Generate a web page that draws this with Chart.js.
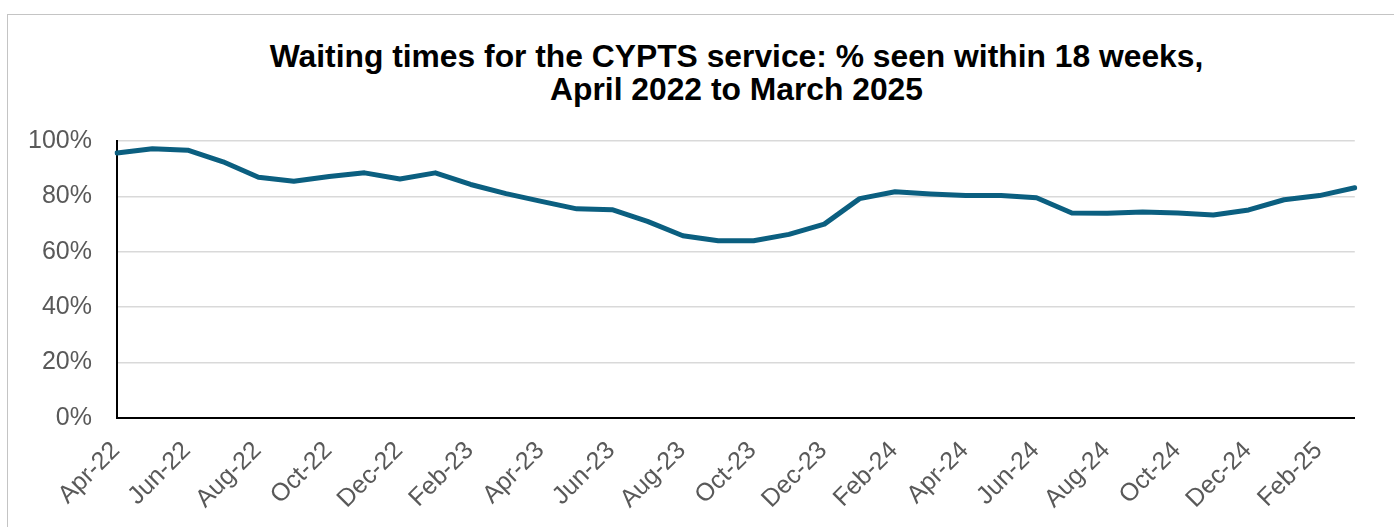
<!DOCTYPE html>
<html>
<head>
<meta charset="utf-8">
<script src="https://cdn.jsdelivr.net/npm/chart.js@4"></script>
<style>
  body { margin: 0; background: #ffffff; overflow: hidden; }
  .frame {
    position: absolute; left: 7px; top: 14px; width: 1420px; height: 560px;
    border: 1.5px solid #c4c4c4; box-sizing: border-box;
  }
  .title {
    position: absolute; left: 0; top: 40px; width: 1473px; text-align: center;
    font: bold 31.8px "Liberation Sans", Arial, sans-serif; line-height: 32.5px; color: #000;
  }
  #waitChart { position: absolute; left: 0; top: 0; }
</style>
</head>
<body>
<div class="frame"></div>
<div class="title">Waiting times for the CYPTS service: % seen within 18 weeks,<br>April 2022 to March 2025</div>
<canvas id="waitChart" width="1394" height="527"></canvas>
<script>
// months shown on the x axis
const months = [
  "Apr-22", "May-22", "Jun-22", "Jul-22", "Aug-22", "Sep-22", "Oct-22", "Nov-22", "Dec-22",
  "Jan-23", "Feb-23", "Mar-23", "Apr-23", "May-23", "Jun-23", "Jul-23", "Aug-23", "Sep-23",
  "Oct-23", "Nov-23", "Dec-23", "Jan-24", "Feb-24", "Mar-24", "Apr-24", "May-24", "Jun-24",
  "Jul-24", "Aug-24", "Sep-24", "Oct-24", "Nov-24", "Dec-24", "Jan-25", "Feb-25", "Mar-25"
];
// % seen within 18 weeks
const seenWithin18 = [
  95.7, 97.2, 96.7, 92.5, 86.9, 85.5, 87.2, 88.5, 86.3,
  88.5, 84.3, 81.0, 78.2, 75.5, 75.2, 71.0, 65.8, 64.0,
  64.0, 66.3, 70.0, 79.2, 81.7, 80.9, 80.3, 80.3, 79.5,
  74.0, 73.9, 74.4, 74.0, 73.3, 75.1, 78.8, 80.3, 83.1
];
const yTicks = [0, 20, 40, 60, 80, 100];

const labelFont = { family: "'Liberation Sans', Arial, sans-serif", size: 25 };

const ctx = document.getElementById("waitChart").getContext("2d");
const waitChart = new Chart(ctx, {
  type: "line",
  data: {
    labels: months,
    datasets: [
      {
        label: "% seen within 18 weeks",
        data: seenWithin18,
        borderColor: "#0b5f80",
        borderWidth: 5,
        pointRadius: 0,
        tension: 0,
        borderJoinStyle: "round",
        borderCapStyle: "round",
        fill: false,
      },
    ],
  },
  options: {
    responsive: false,
    animation: false,
    layout: { padding: { top: 141, right: 39, left: 0, bottom: 0 } },
    plugins: {
      legend: { display: false },
      tooltip: { enabled: false },
    },
    scales: {
      x: {
        offset: false,
        afterFit: (scale) => { scale.height = 109; },
        grid: { display: false, drawTicks: false },
        border: { display: true, color: "#000000", width: 2 },
        ticks: {
          autoSkip: false,
          minRotation: 45,
          maxRotation: 45,
          padding: 18,
          labelOffset: -1,
          color: "#595959",
          font: labelFont,
          callback: function (value, index) {
            return index % 2 === 0 ? months[index] : "";
          },
        },
      },
      y: {
        min: 0,
        max: 100,
        afterFit: (scale) => { scale.width = 117; },
        afterBuildTicks: (scale) => { scale.ticks = yTicks.map((v) => ({ value: v })); },
        grid: { color: "#d9d9d9", lineWidth: 1.5, drawTicks: false },
        border: { display: true, color: "#000000", width: 2 },
        ticks: {
          padding: 25,
          color: "#595959",
          font: labelFont,
          callback: (v) => v + "%",
        },
      },
    },
  },
});
</script>
</body>
</html>
